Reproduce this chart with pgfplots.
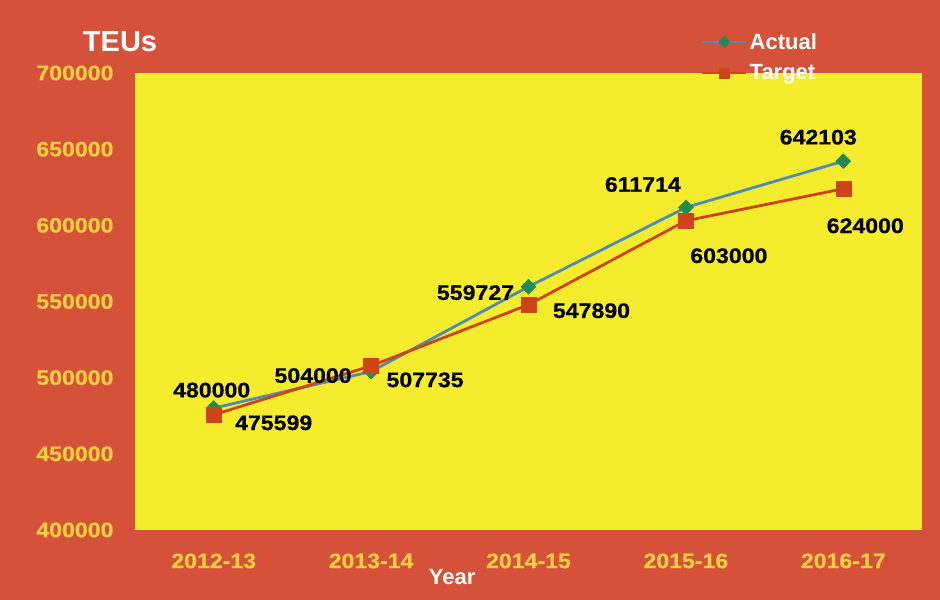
\documentclass[border=0pt]{standalone}
\usepackage{fontspec}
\setmainfont{Liberation Sans}
\newfontfamily\numfont[FakeStretch=1.1,FakeBold=0.6]{Liberation Sans}
\usepackage{pgfplots}
\usepackage{pgfplotstable}
\pgfplotsset{compat=1.18}
\definecolor{bgred}{HTML}{D5513A}
\definecolor{plotyellow}{HTML}{F6EC2E}
\definecolor{ticky}{HTML}{F5CF40}
\definecolor{actline}{HTML}{4F8DB5}
\definecolor{actmark}{HTML}{1F8C58}
\definecolor{tgtred}{HTML}{CF4318}

% x, value, label offset (dx, dy) in bp
\pgfplotstableread{
x y dx dy
0 480000 -2 18
1 504000 -58 -4
2 559727 -53 -6
3 611714 -43 23
4 642103 -25 24
}\actual
\pgfplotstableread{
x y dx dy
0 475599 60 -8
1 507735 54 -14
2 547890 63 -6
3 603000 43 -35
4 624000 22 -37
}\target

\pgfplotsset{
    actstyle/.style={color=actline, line width=2.8bp, mark=square*, mark size=5.3bp, mark options={rotate=45, fill=actmark, draw=actmark, line width=0.5bp}},
    tgtstyle/.style={color=tgtred, line width=2.8bp, mark=square*, mark size=7.5bp, mark options={fill=tgtred, draw=tgtred, line width=0.5bp}},
}

\begin{document}
\begin{tikzpicture}
\fill[bgred] (0,0) rectangle (940bp,600bp);
\begin{axis}[
    at={(135bp,70bp)}, anchor=south west,
    scale only axis, width=787bp, height=457bp,
    axis background/.style={fill=plotyellow},
    axis line style={draw=none}, tick style={draw=none},
    xmin=-0.5, xmax=4.5, ymin=400000, ymax=700000,
    xtick={0,...,4},
    xticklabels={2012-13,2013-14,2014-15,2015-16,2016-17},
    ytick={400000,450000,...,700000},
    scaled y ticks=false,
    /pgf/number format/assume math mode=true,
    yticklabel={\pgfmathprintnumber[fixed,precision=0,1000 sep={}]{\tick}},
    xticklabel style={text=ticky, font=\numfont\fontsize{21bp}{24bp}\selectfont\bfseries, yshift=-20bp},
    yticklabel style={text=ticky, font=\numfont\fontsize{21bp}{24bp}\selectfont\bfseries, xshift=-18bp},
    clip=false,
    legend style={at={(0.715,1.096)}, anchor=north west, draw=none, fill=none,
        text=white, font=\fontsize{22bp}{26bp}\selectfont\bfseries, row sep=10bp},
    legend cell align=left,
    legend image code/.code={\draw[mark repeat=2,mark phase=2,#1] plot coordinates {(0bp,0bp) (22bp,0bp) (44bp,0bp)};},
    nodes near coords={\pgfmathprintnumber[fixed,precision=0,1000 sep={}]{\pgfplotspointmeta}},
    nodes near coords style={anchor=center, xshift=\dx*1bp, yshift=\dy*1bp,
        text=black, font=\numfont\fontsize{21bp}{24bp}\selectfont\bfseries},
]
\addplot[actstyle, forget plot,
    visualization depends on={\thisrow{dx} \as \dx},
    visualization depends on={\thisrow{dy} \as \dy}] table[x=x, y=y] {\actual};
\addplot[tgtstyle, forget plot,
    visualization depends on={\thisrow{dx} \as \dx},
    visualization depends on={\thisrow{dy} \as \dy}] table[x=x, y=y] {\target};
\addlegendimage{actstyle, mark size=4bp}
\addlegendentry{Actual}
\addlegendimage{tgtstyle, mark size=5bp}
\addlegendentry{Target}
\node[text=white, font=\fontsize{29bp}{32bp}\selectfont\bfseries] at (rel axis cs:-0.019,1.068) {TEUs};
\node[text=white, font=\fontsize{22bp}{26bp}\selectfont\bfseries] at (rel axis cs:0.403,-0.103) {Year};
\end{axis}
\pgfresetboundingbox
\path[use as bounding box] (0,0) rectangle (940bp,600bp);
\end{tikzpicture}
\end{document}
